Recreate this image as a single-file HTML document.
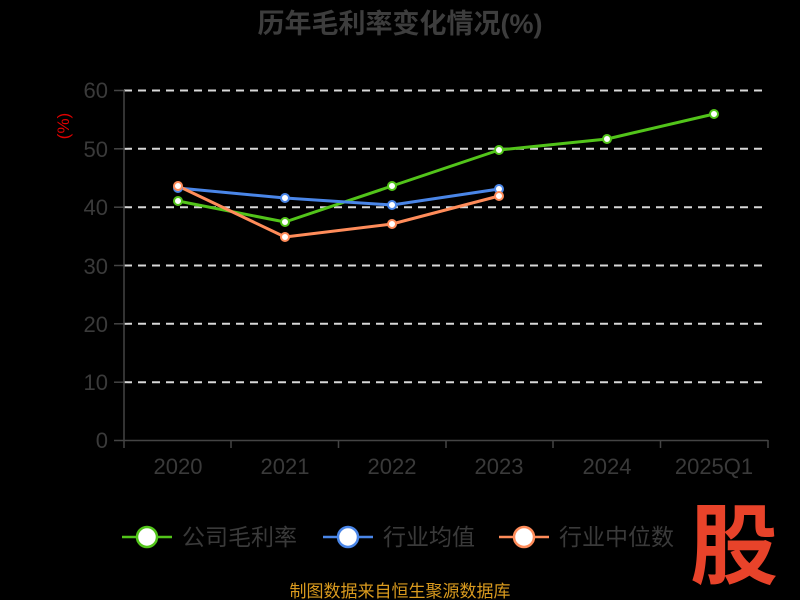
<!DOCTYPE html>
<html><head><meta charset="utf-8"><style>
html,body{margin:0;padding:0;background:#000;}
svg{display:block}
text{font-family:"Liberation Sans","Noto Sans CJK SC",sans-serif;}
</style></head><body>
<svg width="800" height="600" viewBox="0 0 800 600">
<rect width="800" height="600" fill="#000"/>
<text x="400" y="33" text-anchor="middle" font-size="27" font-weight="bold" fill="#3d3d3d">历年毛利率变化情况(%)</text>
<text transform="translate(69,126) rotate(-90)" text-anchor="middle" font-size="17" fill="#e00000">(%)</text>
<g stroke="#d8d8d8" stroke-width="2" stroke-dasharray="8,6">
<line x1="124" y1="90.5" x2="768" y2="90.5"/>
<line x1="124" y1="148.8" x2="768" y2="148.8"/>
<line x1="124" y1="207.2" x2="768" y2="207.2"/>
<line x1="124" y1="265.5" x2="768" y2="265.5"/>
<line x1="124" y1="323.8" x2="768" y2="323.8"/>
<line x1="124" y1="382.2" x2="768" y2="382.2"/>
</g>
<g stroke="#444" stroke-width="1.5">
<line x1="124" y1="90" x2="124" y2="440"/>
<line x1="124" y1="440.5" x2="768" y2="440.5"/>
<line x1="114" y1="90.5" x2="124" y2="90.5"/><line x1="114" y1="148.8" x2="124" y2="148.8"/><line x1="114" y1="207.2" x2="124" y2="207.2"/><line x1="114" y1="265.5" x2="124" y2="265.5"/><line x1="114" y1="323.8" x2="124" y2="323.8"/><line x1="114" y1="382.2" x2="124" y2="382.2"/><line x1="114" y1="440.5" x2="124" y2="440.5"/>
<line x1="124" y1="440" x2="124" y2="448"/><line x1="231" y1="440" x2="231" y2="448"/><line x1="338.5" y1="440" x2="338.5" y2="448"/><line x1="446" y1="440" x2="446" y2="448"/><line x1="553" y1="440" x2="553" y2="448"/><line x1="660.5" y1="440" x2="660.5" y2="448"/><line x1="768" y1="440" x2="768" y2="448"/>
</g>
<g font-size="22" fill="#3a3a3a" text-anchor="end">
<text x="108" y="98">60</text><text x="108" y="157">50</text><text x="108" y="215">40</text><text x="108" y="274">30</text><text x="108" y="332">20</text><text x="108" y="390">10</text><text x="108" y="448">0</text>
</g>
<g font-size="22" fill="#3a3a3a" text-anchor="middle">
<text x="178" y="474">2020</text><text x="285" y="474">2021</text><text x="392" y="474">2022</text><text x="499" y="474">2023</text><text x="607" y="474">2024</text><text x="714" y="474">2025Q1</text>
</g>
<g fill="none" stroke-width="3" stroke-linejoin="round">
<polyline stroke="#52c41a" points="178,201 285,222 392,186 499,150 607,139 714,114"/>
<polyline stroke="#4a86e8" points="178,188 285,198 392,205 499,189"/>
<polyline stroke="#ff8c5a" points="178,186 285,237 392,224 499,196"/>
</g>
<g fill="#fff" stroke-width="2">
<g stroke="#52c41a"><circle cx="178" cy="201" r="4"/><circle cx="285" cy="222" r="4"/><circle cx="392" cy="186" r="4"/><circle cx="499" cy="150" r="4"/><circle cx="607" cy="139" r="4"/><circle cx="714" cy="114" r="4"/></g>
<g stroke="#4a86e8"><circle cx="178" cy="188" r="4"/><circle cx="285" cy="198" r="4"/><circle cx="392" cy="205" r="4"/><circle cx="499" cy="189" r="4"/></g>
<g stroke="#ff8c5a"><circle cx="178" cy="186" r="4"/><circle cx="285" cy="237" r="4"/><circle cx="392" cy="224" r="4"/><circle cx="499" cy="196" r="4"/></g>
</g>
<g stroke-width="2.5">
<line x1="122" y1="537" x2="172" y2="537" stroke="#52c41a"/><circle cx="147" cy="537" r="10" fill="#fff" stroke="#52c41a"/>
<line x1="323" y1="537" x2="373" y2="537" stroke="#4a86e8"/><circle cx="348" cy="537" r="10" fill="#fff" stroke="#4a86e8"/>
<line x1="499" y1="537" x2="549" y2="537" stroke="#ff8c5a"/><circle cx="524" cy="537" r="10" fill="#fff" stroke="#ff8c5a"/>
</g>
<g font-size="23" fill="#3a3a3a">
<text x="182" y="545">公司毛利率</text><text x="383" y="545">行业均值</text><text x="559" y="545">行业中位数</text>
</g>
<text x="400" y="597" text-anchor="middle" font-size="17" fill="#d99a1e">制图数据来自恒生聚源数据库</text>
<text x="734" y="577" text-anchor="middle" font-size="88" font-weight="bold" fill="#e8432a">股</text>
</svg>
</body></html>
